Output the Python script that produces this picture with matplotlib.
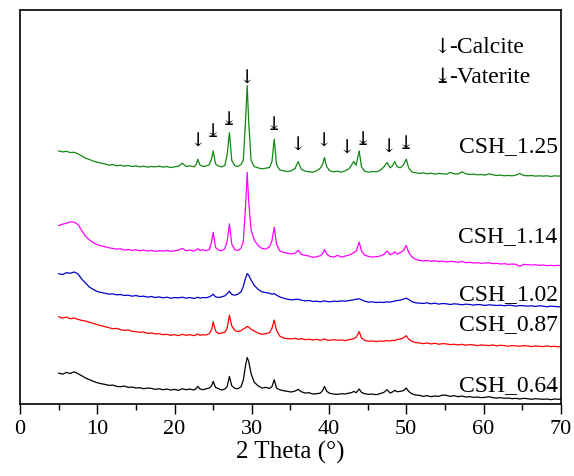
import numpy as np
import matplotlib.pyplot as plt
from matplotlib.ticker import MultipleLocator

# 2 Theta grid (deg)
two_theta = ([5.0 + 0.5 * i for i in range(32)] +
             [21.0, 21.5, 22.0, 22.5, 22.8, 23.0, 23.3, 23.7, 24.1, 24.5, 24.8, 25.0,
              25.3, 25.7, 26.1, 26.5, 26.8, 27.1, 27.4, 27.8, 28.2, 28.6, 28.9, 29.2,
              29.4, 29.6, 29.9, 30.3, 30.8, 31.3, 31.8, 32.3, 32.6, 32.9, 33.2, 33.6,
              34.1, 34.6, 35.1, 35.6, 36.0, 36.4, 36.9, 37.4, 37.9, 38.4, 38.9, 39.2,
              39.4, 39.7, 40.1, 40.6, 41.1, 41.6, 42.1, 42.6, 42.9, 43.2, 43.5, 43.9,
              44.2, 44.6, 45.1, 45.6, 46.1, 46.6, 47.1, 47.5, 47.9, 48.2, 48.5, 48.8,
              49.2, 49.6, 50.0, 50.3, 50.7] +
             [51.2 + 0.5 * i for i in range(38)] + [70.0])

# intensidades (u.a., ya desplazadas)
csh_064 = [93, 90, 95, 92, 97, 91, 85, 78, 73, 68, 64, 61, 59, 56, 57, 53, 52, 54, 50, 51,
           48, 49, 46, 48, 47, 44, 46, 43, 45, 42, 44, 41,
           46, 43, 45, 42, 47, 53, 45, 43, 46, 48, 55, 68, 50, 46, 42, 45, 52, 83, 55, 47,
           46, 52, 72, 118, 140, 128, 92, 66, 55, 48, 50, 47, 52, 73, 48, 43, 40, 38, 36, 39,
           44, 37, 33, 34, 30, 31, 33, 42, 53, 38, 32, 30, 29, 31, 30, 33, 34, 38, 34, 45,
           35, 31, 29, 30, 28, 31, 35, 43, 33, 36, 41, 37, 38, 40, 48, 38, 31,
           27, 26, 23, 25, 22, 24, 23, 27, 26, 23, 25, 22, 24, 21, 22, 20, 21, 19, 20, 22,
           19, 18, 19, 17, 18, 16, 17, 15, 17, 16, 14, 16, 15, 14, 15, 13, 15, 14, 15]

csh_087 = [263, 259, 262, 257, 259, 255, 252, 250, 246, 243, 239, 236, 233, 230, 227, 228,
           224, 222, 223, 219, 218, 216, 217, 213, 214, 211, 212, 209, 210, 207, 209, 206,
           210, 207, 209, 206, 209, 211, 207, 209, 208, 212, 225, 248, 220, 212, 214, 216,
           228, 268, 235, 222, 218, 221, 226, 230, 234, 232, 225, 220, 214, 210, 212, 215,
           228, 253, 222, 205, 199, 197, 196, 198, 195, 197, 194, 195, 193, 195, 192, 194,
           196, 193, 192, 194, 192, 193, 191, 194, 195, 197, 201, 218, 199, 192, 189, 190,
           188, 190, 189, 191, 190, 192, 191, 194, 196, 199, 206, 196, 189,
           185, 184, 182, 184, 181, 183, 180, 182, 181, 179, 180, 178, 180, 177, 179, 178,
           176, 178, 177, 176, 178, 175, 177, 176, 174, 176, 175, 174, 176, 175, 173, 175,
           174, 173, 175, 173, 174, 172, 174]

csh_102 = [393, 390, 396, 394, 398, 392, 376, 364, 352, 345, 339, 336, 334, 331, 332, 329,
           330, 327, 328, 325, 327, 324, 325, 322, 324, 321, 323, 320, 322, 319, 321, 320,
           322, 319, 321, 318, 320, 322, 319, 321, 320, 323, 327, 331, 323, 321, 323, 326,
           332, 340, 330, 328, 331, 338, 355, 380, 393, 388, 374, 358, 346, 338, 336, 334,
           331, 333, 328, 323, 319, 316, 314, 315, 316, 313, 311, 312, 309, 310, 308, 310,
           311, 309, 308, 310, 309, 311, 310, 312, 313, 314, 316, 317, 314, 310, 307, 308,
           306, 307, 306, 308, 307, 309, 310, 312, 313, 316, 319, 315, 309,
           305, 304, 303, 305, 302, 304, 301, 303, 302, 300, 302, 301, 299, 301, 300, 298,
           300, 299, 297, 299, 298, 297, 298, 296, 298, 297, 295, 297, 296, 295, 296, 294,
           296, 295, 293, 295, 294, 293, 293]

csh_114 = [538, 542, 545, 549, 548, 541, 522, 505, 494, 486, 480, 477, 474, 471, 469, 467,
           468, 464, 466, 463, 465, 462, 464, 461, 463, 460, 462, 461, 463, 460, 462, 464,
           469, 462, 464, 461, 465, 468, 463, 465, 462, 466, 490, 518, 472, 464, 462, 468,
           490, 543, 482, 465, 463, 470, 490, 600, 698, 610, 525, 495, 478, 469, 467, 474,
           492, 533, 482, 462, 457, 455, 452, 455, 463, 451, 448, 446, 442, 444, 447, 455,
           466, 452, 445, 443, 448, 443, 446, 449, 452, 457, 460, 488, 461, 449, 445, 443,
           444, 446, 451, 461, 450, 453, 459, 452, 456, 462, 478, 458, 444,
           436, 433, 431, 433, 430, 432, 429, 431, 428, 430, 429, 427, 430, 426, 427, 425,
           426, 424, 425, 426, 423, 424, 422, 423, 421, 422, 421, 415, 421, 420, 419, 420,
           418, 419, 417, 418, 417, 418, 417]

csh_125 = [763, 760, 762, 758, 759, 754, 748, 741, 737, 732, 729, 726, 724, 720, 722, 718,
           720, 717, 719, 716, 718, 715, 717, 714, 716, 715, 717, 714, 716, 713, 715, 717,
           726, 716, 718, 715, 722, 738, 720, 716, 718, 721, 740, 763, 724, 717, 715, 719,
           750, 818, 735, 718, 716, 722, 735, 860, 960, 850, 735, 716, 712, 709, 711, 713,
           730, 798, 722, 706, 703, 701, 703, 710, 731, 708, 702, 700, 699, 703, 712, 725,
           743, 715, 703, 700, 702, 699, 703, 710, 720, 731, 720, 763, 715, 702, 699, 701,
           700, 704, 715, 728, 712, 718, 731, 716, 712, 720, 738, 712, 700,
           697, 695, 697, 694, 696, 693, 695, 694, 693, 698, 694, 693, 700, 694, 692, 693,
           691, 692, 690, 694, 691, 689, 690, 688, 689, 688, 690, 695, 689, 688, 689, 687,
           688, 687, 688, 686, 688, 687, 688]

series = [csh_064, csh_087, csh_102, csh_114, csh_125]
nombres = ['CSH_0.64', 'CSH_0.87', 'CSH_1.02', 'CSH_1.14', 'CSH_1.25']
colores = ['black', '#ff0000', '#0000cc', '#ff00ff', '#118811']
pos_etiqueta = [58, 243, 333, 508, 778]

# picos marcados sobre CSH_1.25
calcita_x = [23.0, 29.4, 36.0, 39.4, 42.3, 47.8]
calcita_y = [793, 983, 783, 793, 773, 776]
vaterita_x = [25.0, 27.1, 32.9, 44.4, 50.0]
vaterita_y = [823, 858, 843, 800, 788]

plt.rcParams['font.family'] = ['Liberation Serif', 'DejaVu Serif', 'DejaVu Sans']

fig = plt.figure(figsize=(5.74, 4.77), dpi=100)
ax = fig.add_axes([0.035, 0.151, 0.942, 0.826])

for y, nombre, c, yl in zip(series, nombres, colores, pos_etiqueta):
    ax.plot(two_theta, y, color=c, lw=0.9)
    ax.text(69.6, yl, nombre, ha='right', va='center', fontsize=17)

flecha = dict(ha='center', va='center', fontsize=14, family=['DejaVu Serif', 'DejaVu Sans'])
for x, y in zip(calcita_x, calcita_y):
    ax.text(x, y, '↓', **flecha)
for x, y in zip(vaterita_x, vaterita_y):
    ax.text(x, y, '⤓', **flecha)

# leyenda
ley = dict(flecha, fontsize=15)
ax.text(54.6, 1078, '↓', **ley)
ax.text(55.6, 1078, '-Calcite', ha='left', va='center', fontsize=17)
ax.text(54.6, 988, '⤓', **ley)
ax.text(55.6, 988, '-Vaterite', ha='left', va='center', fontsize=17)

ax.set_xlim(0, 70)
ax.set_ylim(0, 1188)
ax.set_yticks([])
ax.xaxis.set_major_locator(MultipleLocator(10))
ax.xaxis.set_minor_locator(MultipleLocator(5))
ax.tick_params(axis='x', which='major', direction='out', length=7, width=1, labelsize=16)
ax.tick_params(axis='x', which='minor', direction='out', length=4, width=1)
for s in ax.spines.values():
    s.set_linewidth(1.2)
ax.set_xlabel('2 Theta (°)', fontsize=18, labelpad=2)

plt.savefig('out.png', dpi=100)
